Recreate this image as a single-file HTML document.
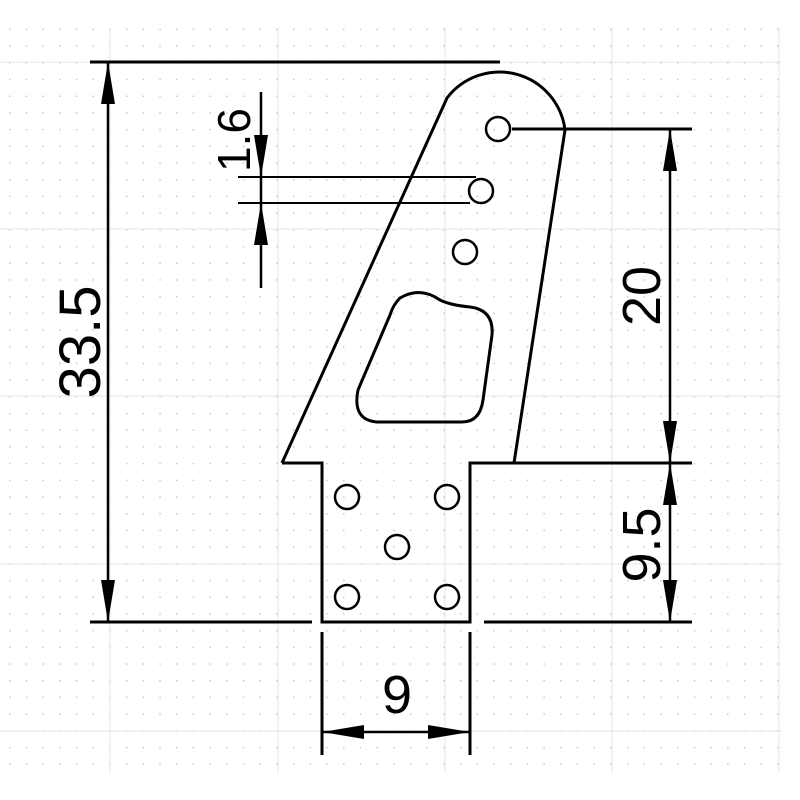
<!DOCTYPE html>
<html><head><style>html,body{margin:0;padding:0;background:#fff}svg{display:block}</style></head>
<body>
<svg width="800" height="800" viewBox="0 0 800 800" xmlns="http://www.w3.org/2000/svg">
<defs>
<pattern id="dots" x="9" y="12" width="16.7" height="16.7" patternUnits="userSpaceOnUse">
<rect x="0" y="0" width="1.5" height="1.5" fill="#c8c8c8"/>
</pattern>
</defs>
<rect x="0" y="28" width="782" height="745" fill="url(#dots)"/>
<g stroke="#e4e4e4" stroke-width="1">
<line x1="110" y1="28" x2="110" y2="773"/><line x1="278" y1="28" x2="278" y2="773"/>
<line x1="445" y1="28" x2="445" y2="773"/><line x1="612" y1="28" x2="612" y2="773"/>
<line x1="779" y1="28" x2="779" y2="773"/>
<line x1="0" y1="62" x2="782" y2="62"/><line x1="0" y1="229" x2="782" y2="229"/>
<line x1="0" y1="396" x2="782" y2="396"/><line x1="0" y1="564" x2="782" y2="564"/>
<line x1="0" y1="731" x2="782" y2="731"/>
</g>
<g fill="none" stroke="#000" stroke-width="3">
<path d="M282 463 L447 98 A66 66 0 0 1 565 130 L514 463"/>
<path d="M282 463 L322 463 L322 622 L470 622 L470 463 L692 463"/>
<path d="M377 422 L462 422 Q480 422 483 400 L492 335 Q494 310 470 307 Q450 305 440 300 Q420 286 400 298 Q393 305 390 315 L358 390 Q352 420 377 422 Z"/>
<line x1="90" y1="62" x2="500" y2="62"/>
<line x1="90" y1="622" x2="312" y2="622"/>
<line x1="484" y1="622" x2="692" y2="622"/>
<line x1="512" y1="129" x2="692" y2="129"/>
<line x1="238" y1="177" x2="476" y2="177" stroke-width="2"/>
<line x1="238" y1="203" x2="470" y2="203" stroke-width="2"/>
<line x1="108" y1="62" x2="108" y2="622" stroke-width="2.5"/>
<line x1="670" y1="129" x2="670" y2="622" stroke-width="2.5"/>
<line x1="261" y1="92" x2="261" y2="288" stroke-width="2.5"/>
<line x1="322" y1="632" x2="322" y2="755"/>
<line x1="470" y1="632" x2="470" y2="755"/>
<line x1="322" y1="732" x2="470" y2="732" stroke-width="2.5"/>
</g>
<g fill="none" stroke="#000" stroke-width="2.5">
<circle cx="498" cy="129" r="12"/><circle cx="481" cy="191" r="12"/><circle cx="465" cy="252" r="12"/>
<circle cx="347" cy="497" r="12"/><circle cx="447" cy="497" r="12"/><circle cx="397" cy="547" r="12"/>
<circle cx="347" cy="597" r="12"/><circle cx="447" cy="597" r="12"/>
</g>
<g fill="#000">
<polygon points="108,62 101,104 115,104"/><polygon points="108,622 101,580 115,580"/>
<polygon points="670,129 663,171 677,171"/><polygon points="670,463 663,421 677,421"/>
<polygon points="670,463 663,505 677,505"/><polygon points="670,622 663,580 677,580"/>
<polygon points="261,177 254,135 268,135"/><polygon points="261,203 254,245 268,245"/>
<polygon points="322,732 364,725 364,739"/><polygon points="470,732 428,725 428,739"/>
</g>
<g font-family="Liberation Sans, sans-serif" font-weight="300" fill="#000" stroke="#fff" stroke-width="0" text-anchor="middle">
<text transform="translate(100,342) rotate(-90)" font-size="58">33.5</text>
<text transform="translate(660,296) rotate(-90)" font-size="54">20</text>
<text transform="translate(660,545) rotate(-90)" font-size="54">9.5</text>
<text transform="translate(250,140) rotate(-90)" font-size="46">1.6</text>
<text x="397" y="713" font-size="54">9</text>
</g>
</svg>
</body></html>
